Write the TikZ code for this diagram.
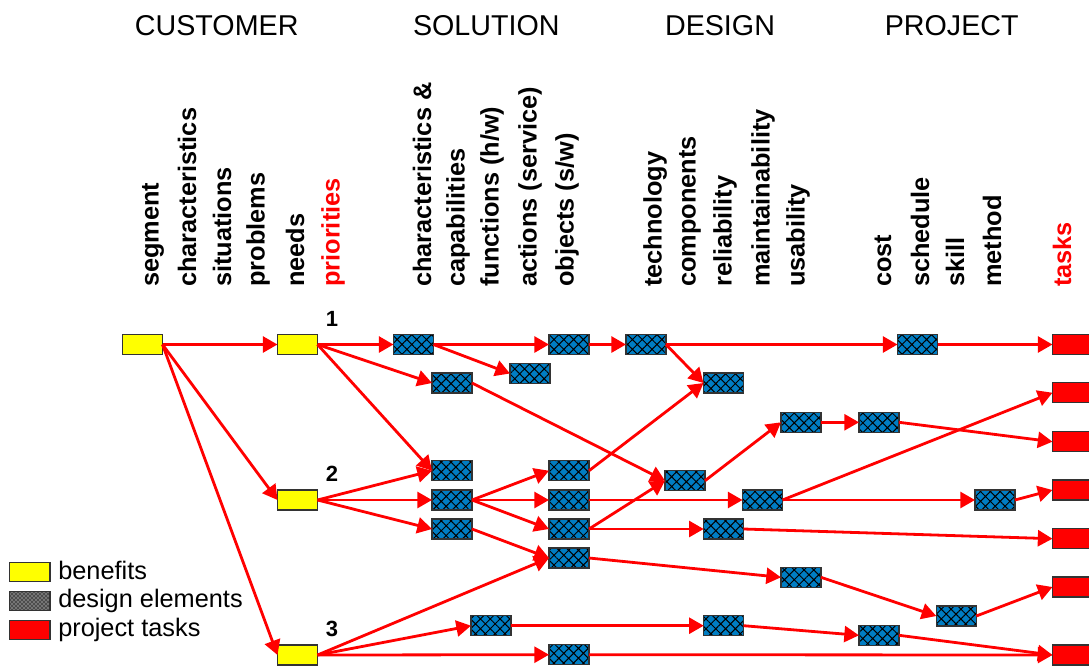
\documentclass[tikz,border=0pt]{standalone}
\usepackage{fontspec}
\setmainfont{Liberation Sans}
\usetikzlibrary{arrows.meta,patterns,patterns.meta}
\definecolor{dblue}{RGB}{0,125,195}
\definecolor{bred}{RGB}{255,0,0}
\definecolor{byellow}{RGB}{255,255,0}
\begin{document}
\begin{tikzpicture}[x=0.75pt,y=-0.75pt,
  box/.style={draw=black!80,line width=0.9pt,minimum width=30pt,minimum height=15pt,inner sep=0pt,outer sep=0pt},
  benefit/.style={box,fill=byellow},
  delem/.style={box,preaction={fill=dblue},pattern={Hatch[angle=45,distance=5.2pt,line width=0.75pt]},pattern color=black},
  ptask/.style={box,fill=bred},
  conn/.style={draw=bred,line width=2.1pt,-{Triangle[length=11pt,width=12pt]}},
  head/.style={font=\fontsize{21.5}{24}\selectfont,anchor=base,inner sep=0pt},
  collab/.style={rotate=90,anchor=west,inner sep=0pt,font=\fontsize{19}{22}\selectfont\bfseries},
  num/.style={font=\fontsize{16.5}{18}\selectfont\bfseries,anchor=base,inner sep=0pt},
  legtext/.style={font=\fontsize{19}{21}\selectfont,anchor=base west,inner sep=0pt}]
\useasboundingbox (0,0) rectangle (1089,668);

% headers
\node[head] (hcust) at (216.7,35) {CUSTOMER};
\node[head] (hsol) at (486.3,35) {SOLUTION};
\node[head] (hdes) at (720,35) {DESIGN};
\node[head] (hproj) at (951.7,35) {PROJECT};

% column labels
\node[collab] (l1) at (153,287) {segment};
\node[collab] (l2) at (187,287) {characteristics};
\node[collab] (l3) at (222,287) {situations};
\node[collab] (l4) at (258,287) {problems};
\node[collab] (l5) at (295,287) {needs};
\node[collab,text=bred] (l6) at (333,287) {priorities};
\node[collab] (l7) at (422,287) {characteristics \&};
\node[collab] (l8) at (458,287) {capabilities};
\node[collab] (l9) at (492,287) {functions (h/w)};
\node[collab] (l10) at (530,287) {actions (service)};
\node[collab] (l11) at (567,287) {objects (s/w)};
\node[collab] (l12) at (655,287) {technology};
\node[collab] (l13) at (690,287) {components};
\node[collab] (l14) at (725,287) {reliability};
\node[collab] (l15) at (763,287) {maintainability};
\node[collab] (l16) at (798,287) {usability};
\node[collab] (l17) at (883,287) {cost};
\node[collab] (l18) at (920,287) {schedule};
\node[collab] (l19) at (955,287) {skill};
\node[collab] (l20) at (992,287) {method};
\node[collab,text=bred] (l21) at (1062,287) {tasks};

% priority numbers
\node[num] (n1) at (332,326) {1};
\node[num] (n2) at (332,481) {2};
\node[num] (n3) at (332,636) {3};

% benefits
\node[benefit] (Y1) at (142.5,344.5) {};
\node[benefit] (Y2) at (297.5,344.5) {};
\node[benefit] (P2) at (297.5,500) {};
\node[benefit] (P3) at (297.5,655) {};

% design elements
\node[delem] (A) at (413.5,344.5) {};
\node[delem] (B) at (452,383) {};
\node[delem] (C) at (530,373.5) {};
\node[delem] (D) at (569,344.5) {};
\node[delem] (E) at (646,344.5) {};
\node[delem] (F) at (723.5,383) {};
\node[delem] (U) at (917.5,344.5) {};
\node[delem] (G) at (452,470.7) {};
\node[delem] (H) at (569,470.7) {};
\node[delem] (I) at (685,480.7) {};
\node[delem] (J) at (452,500) {};
\node[delem] (K) at (569,500) {};
\node[delem] (L) at (762.5,500) {};
\node[delem] (X) at (995,500) {};
\node[delem] (M) at (452,529) {};
\node[delem] (N) at (569,529) {};
\node[delem] (P) at (723.7,529) {};
\node[delem] (O) at (569,558) {};
\node[delem] (Q) at (801,577.3) {};
\node[delem] (V) at (801,422.3) {};
\node[delem] (W) at (879,422.3) {};
\node[delem] (Yd) at (956.3,616) {};
\node[delem] (R) at (491,625.7) {};
\node[delem] (S) at (723.7,625.7) {};
\node[delem] (Z) at (879,635.3) {};
\node[delem] (T) at (569,654.7) {};

% project tasks
\node[ptask] (T1) at (1072.5,344.5) {};
\node[ptask] (T2) at (1072.5,392.7) {};
\node[ptask] (T3) at (1072.5,441.7) {};
\node[ptask] (T4) at (1072.5,490) {};
\node[ptask] (T5) at (1072.5,538.7) {};
\node[ptask] (T6) at (1072.5,587) {};
\node[ptask] (T7) at (1072.5,655) {};

% connectors
\draw[conn] (Y1.east) -- (Y2.west);
\draw[conn] (Y1.east) -- (P2.west);
\draw[conn] (Y1.east) -- (P3.west);
\draw[conn] (Y2.east) -- (A.west);
\draw[conn] (Y2.east) -- (B.west);
\draw[conn] (Y2.east) -- (G.west);
\draw[conn] (A.east) -- (D.west);
\draw[conn] (A.east) -- (C.west);
\draw[conn] (D.east) -- (E.west);
\draw[conn] (E.east) -- (F.west);
\draw[conn] (E.east) -- (U.west);
\draw[conn] (U.east) -- (T1.west);
\draw[conn] (B.east) -- (I.west);
\draw[conn] (H.east) -- (F.west);
\draw[conn] (I.east) -- (V.west);
\draw[conn] (V.east) -- (W.west);
\draw[conn] (W.east) -- (T3.west);
\draw[conn] (P2.east) -- (G.west);
\draw[conn] (P2.east) -- (J.west);
\draw[conn] (P2.east) -- (M.west);
\draw[conn] (J.east) -- (H.west);
\draw[conn] (J.east) -- (K.west);
\draw[conn] (J.east) -- (N.west);
\draw[conn] (K.east) -- (L.west);
\draw[conn] (N.east) -- (I.west);
\draw[conn] (N.east) -- (P.west);
\draw[conn] (L.east) -- (T2.west);
\draw[conn] (L.east) -- (X.west);
\draw[conn] (X.east) -- (T4.west);
\draw[conn] (P.east) -- (T5.west);
\draw[conn] (M.east) -- (O.west);
\draw[conn] (O.east) -- (Q.west);
\draw[conn] (Q.east) -- (Yd.west);
\draw[conn] (Yd.east) -- (T6.west);
\draw[conn] (P3.east) -- (O.west);
\draw[conn] (P3.east) -- (R.west);
\draw[conn] (P3.east) -- (T.west);
\draw[conn] (R.east) -- (S.west);
\draw[conn] (S.east) -- (Z.west);
\draw[conn] (Z.east) -- (T7.west);
\draw[conn] (T.east) -- (T7.west);

% legend
\node[box,fill=byellow,minimum width=30.5pt,minimum height=14.5pt] (lg1) at (29.7,572) {};
\node[box,preaction={fill=black!70},pattern=crosshatch dots,pattern color=white,minimum width=30.5pt,minimum height=14.5pt] (lg2) at (29.7,601) {};
\node[box,fill=bred,minimum width=30.5pt,minimum height=14.5pt] (lg3) at (29.7,630) {};
\node[legtext] (lt1) at (58,579) {benefits};
\node[legtext] (lt2) at (58,607) {design elements};
\node[legtext] (lt3) at (58,636) {project tasks};
\end{tikzpicture}
\end{document}
